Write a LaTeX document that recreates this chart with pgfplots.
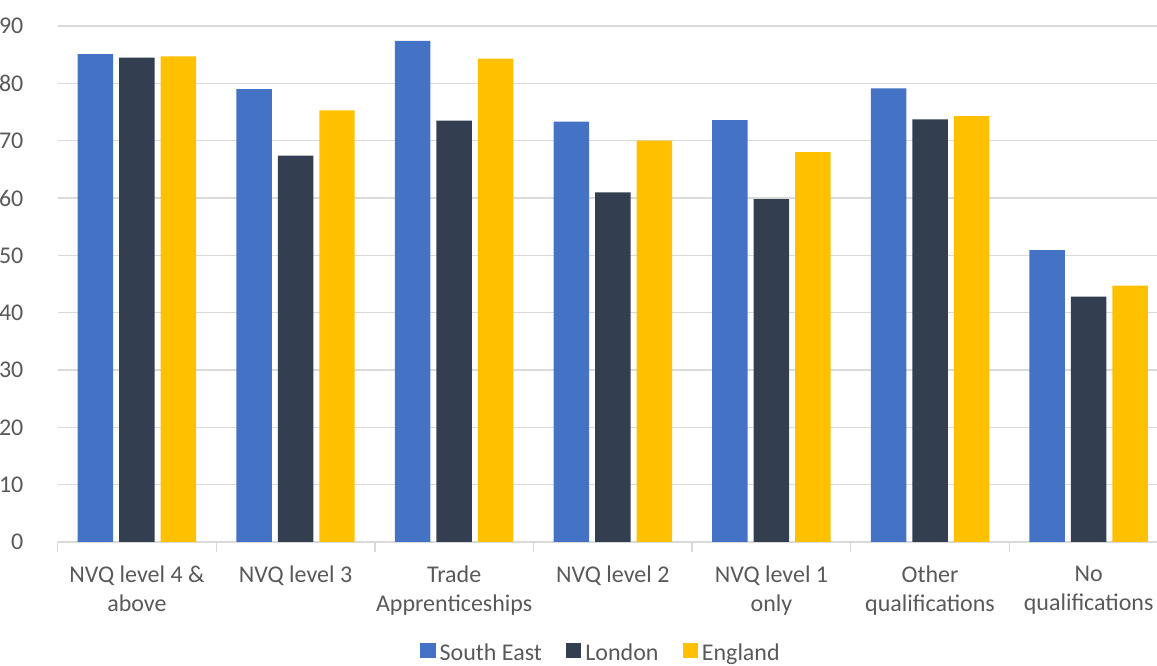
\documentclass[border=0pt]{standalone}
\usepackage{fontspec}
\setmainfont{Carlito}
\usepackage{pgfplots}
\pgfplotsset{compat=1.18}
\definecolor{seblue}{HTML}{4472C4}
\definecolor{londark}{HTML}{333F50}
\definecolor{enggold}{HTML}{FFC000}
\definecolor{gridgrey}{HTML}{D9D9D9}
\definecolor{labelgrey}{HTML}{595959}
\newcommand{\lblfont}{\fontsize{18}{21.5}\selectfont}
\begin{document}
\begin{tikzpicture}
\useasboundingbox (-43.2pt,-93pt) rectangle (824.55pt,406.5pt);
\clip (-43.2pt,-93pt) rectangle (824.55pt,406.5pt);
\begin{axis}[
  at={(0pt,0pt)}, anchor=south west,
  scale only axis, width=832.8pt, height=387pt,
  ybar=4.5pt, bar width=26.6pt,
  xmin=-0.5, xmax=6.5, ymin=0, ymax=90,
  axis x line*=bottom, axis y line*=left,
  x axis line style={gridgrey, line width=1pt, -},
  y axis line style={draw=none},
  ytick={0,10,...,90},
  ytick style={draw=none},
  ymajorgrids, grid style={gridgrey, line width=1pt},
  /pgf/number format/assume math mode=true,
  yticklabel style={font=\lblfont, text=labelgrey, anchor=east, inner sep=0pt, xshift=-18pt},
  xtick={-0.5,0.5,...,6.5},
  xticklabels={},
  tick align=outside,
  major tick length=7.5pt,
  xtick style={gridgrey, line width=1pt},
  extra x ticks={0,1,2,3,4,5,6},
  extra x tick labels={NVQ level 4 \&\\above, NVQ level 3, Trade\\Apprenticeships, NVQ level 2, NVQ level 1\\only, Other\\qualifications, No\\qualifications},
  extra x tick style={major tick length=0pt, xmajorgrids=false,
    xticklabel style={font=\lblfont, text=labelgrey, align=center, anchor=north, inner sep=0pt, yshift=-18pt}},
  legend columns=3,
  legend style={at={(0.4885,-0.2145)}, anchor=center, draw=none, fill=none,
    font=\lblfont, text=labelgrey, column sep=3pt,
    nodes={inner sep=0pt},
    /tikz/every even column/.append style={column sep=18pt}},
  legend image code/.code={\fill[#1,draw=none] (0pt,-4pt) rectangle (11.5pt,7.5pt);},
]
\addplot[fill=seblue, draw=none] coordinates {(0,85.1) (1,79.0) (2,87.4) (3,73.3) (4,73.6) (5,79.1) (6,50.9)};
\addplot[fill=londark, draw=none] coordinates {(0,84.5) (1,67.4) (2,73.5) (3,61.0) (4,59.8) (5,73.7) (6,42.8)};
\addplot[fill=enggold, draw=none] coordinates {(0,84.7) (1,75.3) (2,84.3) (3,70.0) (4,68.0) (5,74.3) (6,44.7)};
\legend{South East, London, England}
\end{axis}
\end{tikzpicture}
\end{document}
